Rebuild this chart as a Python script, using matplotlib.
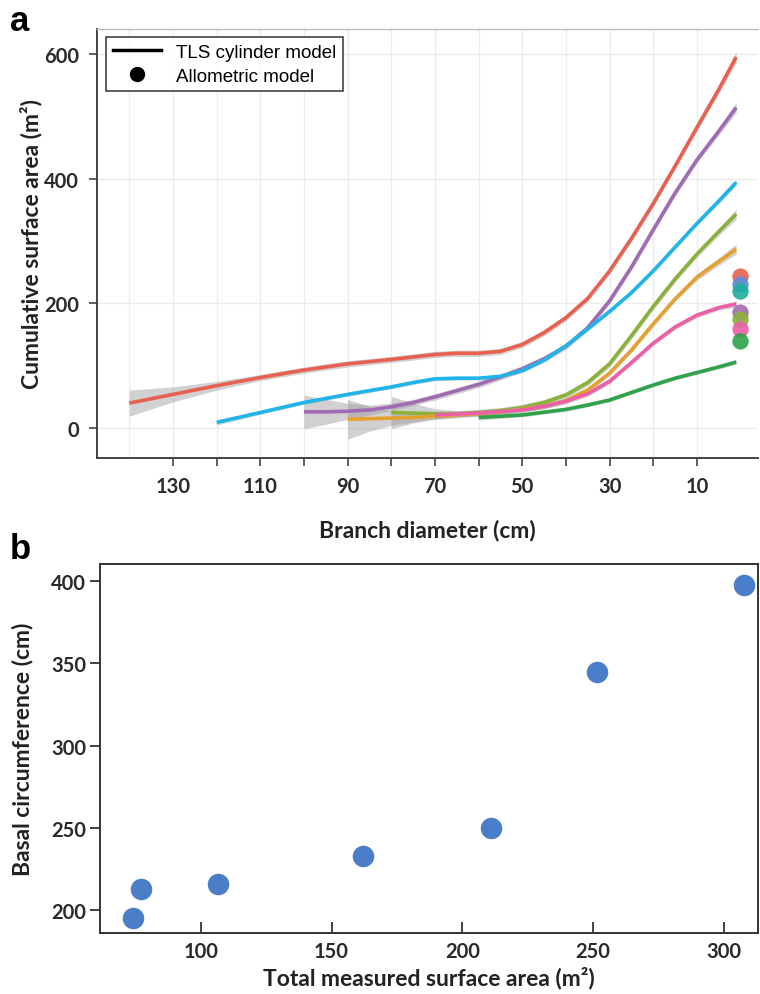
import matplotlib
matplotlib.use("Agg")
import matplotlib.pyplot as plt
from matplotlib.lines import Line2D
import numpy as np

plt.rcParams['font.family'] = ['Lato', 'DejaVu Sans']

# panel a: smoothed cumulative surface area vs branch diameter (one tree per colour)
diam_red = [140, 130, 120, 110, 100, 90, 80, 70, 65, 60, 55, 50, 45, 40, 35, 30, 25, 20, 15, 10, 5, 1]
area_red = [40, 54, 68, 81, 93, 103, 110, 118, 120, 120, 123, 134, 153, 177, 208, 252, 304, 360, 420, 482, 543, 595]
band_red = [21, 12, 7, 5, 5, 5, 5, 5, 5, 5, 5, 5, 5, 5, 5, 5, 5, 5, 5, 6, 7, 9]

diam_purple = [100, 95, 90, 85, 80, 75, 70, 65, 60, 55, 50, 45, 40, 35, 30, 25, 20, 15, 10, 5, 1]
area_purple = [26, 26, 27, 29, 34, 41, 50, 60, 70, 82, 95, 111, 131, 161, 204, 258, 318, 377, 430, 476, 514]
band_purple = [27, 20, 13, 8, 6, 5, 5, 5, 5, 5, 5, 5, 5, 5, 5, 5, 5, 5, 5, 6, 8]

diam_blue = [120, 110, 100, 90, 80, 75, 70, 65, 60, 55, 50, 45, 40, 35, 30, 25, 20, 15, 10, 5, 1]
area_blue = [9, 25, 41, 54, 66, 73, 79, 80, 80, 83, 92, 109, 132, 159, 187, 217, 252, 290, 328, 364, 394]
band_blue = [4, 3, 3, 3, 3, 3, 3, 3, 3, 3, 3, 3, 3, 3, 3, 3, 3, 3, 3, 4, 5]

diam_olive = [80, 75, 70, 65, 60, 55, 50, 45, 40, 35, 30, 25, 20, 15, 10, 5, 1]
area_olive = [25, 24, 23, 23, 25, 28, 33, 41, 53, 73, 103, 148, 195, 239, 279, 315, 343]
band_olive = [26, 16, 8, 5, 5, 5, 5, 5, 5, 5, 5, 5, 5, 5, 5, 6, 8]

diam_orange = [90, 85, 80, 75, 70, 60, 55, 50, 45, 40, 35, 30, 25, 20, 15, 10, 5, 1]
area_orange = [14, 15, 16, 17, 19, 23, 26, 30, 35, 44, 61, 88, 125, 167, 207, 242, 267, 287]
band_orange = [32, 20, 12, 7, 5, 4, 4, 4, 4, 4, 4, 4, 4, 4, 4, 5, 6, 8]

diam_pink = [70, 60, 50, 45, 40, 35, 30, 25, 20, 15, 10, 5, 1]
area_pink = [21, 24, 29, 35, 43, 55, 75, 105, 136, 162, 181, 193, 199]
band_pink = [6, 4, 4, 4, 4, 4, 4, 4, 4, 4, 4, 4, 5]

diam_green = [60, 50, 40, 35, 30, 25, 20, 15, 10, 5, 1]
area_green = [17, 21, 30, 37, 45, 57, 69, 80, 89, 98, 106]
band_green = [4, 3, 3, 3, 3, 3, 3, 3, 3, 3, 4]

# allometric estimates (plotted at diameter 0)
allo_area = [243, 230, 219, 185, 174, 158, 139]
allo_colors = ['#E8604F', '#5B8DD9', '#1DAE9A', '#A06BB3', '#8AB23A', '#EC5FA8', '#2FA24A']

# panel b
total_area = [74, 77, 106.5, 162, 211, 251.5, 307.5]
basal_circ = [195, 213, 216, 233, 250, 345, 398]

series = [
    (diam_red, area_red, band_red, '#E8604F'),
    (diam_purple, area_purple, band_purple, '#A06BB3'),
    (diam_blue, area_blue, band_blue, '#1FB5E8'),
    (diam_olive, area_olive, band_olive, '#8AB23A'),
    (diam_orange, area_orange, band_orange, '#E5A030'),
    (diam_pink, area_pink, band_pink, '#EC5FA8'),
    (diam_green, area_green, band_green, '#2FA24A'),
]

fig = plt.figure(figsize=(7.6, 9.95), dpi=100)
ax1 = fig.add_axes([97/760, 1-459/995, (758-97)/760, (459-30)/995])
ax2 = fig.add_axes([100/760, 1-934/995, (758-100)/760, (934-565)/995])

tick_font = dict(fontsize=14.5, fontweight='bold', color='#2a2a2a')
label_font = dict(fontsize=16.5, fontweight='bold', color='#222222')

# ---- panel a
for d, v, se, c in series:
    d, v, se = np.array(d), np.array(v), np.array(se)
    ax1.fill_between(d, v - se, v + se, color='#9a9a9a', alpha=0.45, lw=0, zorder=2)
for d, v, se, c in series:
    ax1.plot(d, v, color=c, lw=2.6, solid_capstyle='butt', solid_joinstyle='round', zorder=3)
ax1.scatter(np.zeros(len(allo_area)), allo_area, s=140, c=allo_colors, alpha=0.9,
            linewidths=0, zorder=4)

ax1.set_xlim(147.4, -4)
ax1.set_ylim(-48, 640)
ax1.set_xticks(np.arange(10, 140, 10), minor=False)
ax1.set_xticklabels([str(t) if t % 20 == 10 else '' for t in range(10, 140, 10)])
ax1.set_xticks([140], minor=True)
ax1.set_yticks([0, 200, 400, 600])
ax1.grid(True, which='both', color='#ececec', lw=1, zorder=0)
ax1.tick_params(axis='both', direction='out', length=6, width=1.2, color='#444444', pad=7)
ax1.tick_params(axis='x', which='minor', length=0)
for lab in ax1.get_xticklabels() + ax1.get_yticklabels():
    lab.set(**tick_font)
ax1.spines['left'].set(color='#444444', lw=1.4)
ax1.spines['bottom'].set(color='#444444', lw=1.4)
ax1.spines['top'].set(color='#bdbdbd', lw=1)
ax1.spines['right'].set_visible(False)
ax1.set_xlabel('Branch diameter (cm)', labelpad=16, **label_font)
ax1.set_ylabel('Cumulative surface area (m²)', **label_font)
ax1.yaxis.set_label_coords(-0.083, 0.5)

handles = [Line2D([], [], color='black', lw=2.5),
           Line2D([], [], color='black', marker='o', ls='none', markersize=10)]
leg = ax1.legend(handles, ['TLS cylinder model', 'Allometric model'], loc='upper left',
                 bbox_to_anchor=(0.0136, 0.981), borderaxespad=0, frameon=True, fancybox=False,
                 edgecolor='black', handlelength=2.6, borderpad=0.35, labelspacing=0.35,
                 prop={'family': 'Liberation Sans', 'size': 13.5})
leg.get_frame().set_linewidth(1.1)

# ---- panel b
ax2.scatter(total_area, basal_circ, s=240, color='#4A7EC8', linewidths=0, zorder=3)
ax2.set_xlim(61.5, 313)
ax2.set_ylim(186, 410.5)
ax2.set_xticks([100, 150, 200, 250, 300])
ax2.set_yticks([200, 250, 300, 350, 400])
ax2.tick_params(axis='y', direction='out', length=7, width=1.3, color='#333333', pad=3)
ax2.tick_params(axis='x', direction='in', length=8, width=1.3, color='#333333', pad=6)
for lab in ax2.get_xticklabels() + ax2.get_yticklabels():
    lab.set(**tick_font)
for s in ax2.spines.values():
    s.set(color='#333333', lw=1.4)
ax2.set_xlabel('Total measured surface area (m²)', labelpad=3, **label_font)
ax2.set_ylabel('Basal circumference (cm)', **label_font)
ax2.yaxis.set_label_coords(-0.102, 0.5)

fig.text(10/760, 1-31/995, 'a', fontsize=25, fontweight='bold', family='Liberation Sans')
fig.text(10/760, 1-559/995, 'b', fontsize=25, fontweight='bold', family='Liberation Sans')

fig.savefig('out.png', dpi=100)
